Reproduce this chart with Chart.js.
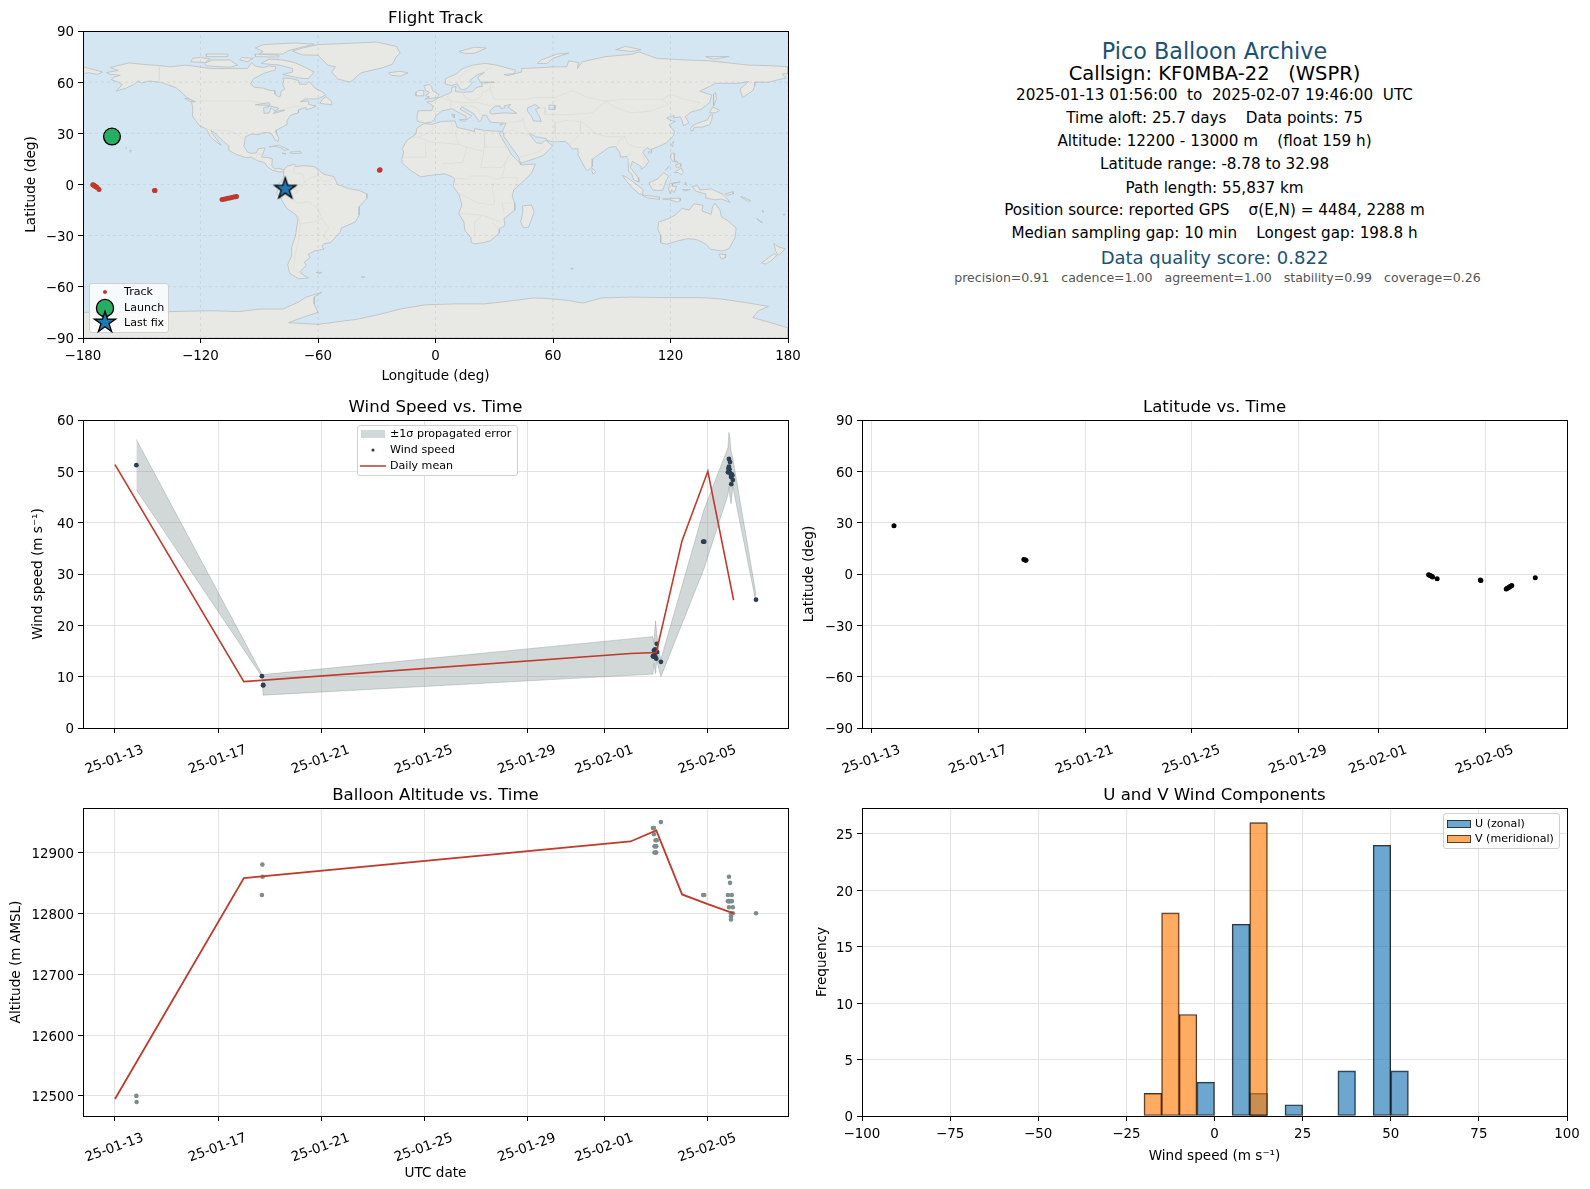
<!DOCTYPE html>
<html>
<head>
<meta charset="utf-8">
<title>Pico Balloon Archive</title>
<script src="https://cdn.jsdelivr.net/npm/chart.js@4"></script>
<style>
  html, body { margin: 0; padding: 0; background: #fff; }
  body { position: relative; width: 1590px; height: 1189px; overflow: hidden; font-family: "DejaVu Sans", sans-serif; }
  canvas { position: absolute; }
  .info { position: absolute; left: 1214.5px; transform: translate(-50%, -50%); white-space: pre; color: #000; font-size: 14.2px; }
</style>
</head>
<body>
<script>
// ---- time axis: days since 2025-01-13 00:00 UTC
const dateTicks = [0, 4, 8, 12, 16, 19, 23];
const dateLabels = ["25-01-13", "25-01-17", "25-01-21", "25-01-25", "25-01-29", "25-02-01", "25-02-05"];

// ---- wind speed panel
const windDays = [0.83, 5.70, 5.75, 5.75, 20.87, 20.89, 20.91, 20.93, 20.93, 20.95, 20.97, 20.97, 21.00, 21.02, 21.03, 21.18, 22.82, 22.86, 23.78, 23.80, 23.82, 23.82, 23.84, 23.86, 23.86, 23.90, 23.90, 23.92, 23.93, 23.95, 23.97, 23.91, 24.87];
const windSpeed = [51.2, 10.1, 8.4, 8.3, 14.0, 13.9, 15.1, 15.0, 14.2, 15.3, 13.8, 15.0, 13.5, 16.4, 14.8, 12.9, 36.3, 36.3, 49.8, 50.5, 52.4, 50.9, 50.4, 51.8, 49.7, 48.9, 49.3, 49.1, 49.4, 49.2, 48.3, 47.5, 25.0];
const meanDays = [0, 5, 20, 21, 22, 23, 24];
const meanSpeed = [51.3, 9.05, 14.5, 14.7, 36.5, 50.0, 24.9];
const bandDays = [0.83, 5.70, 5.75, 20.87, 20.91, 20.97, 21.02, 21.10, 21.18, 22.84, 23.78, 23.82, 23.86, 23.90, 23.97, 24.87];
const bandUpper = [56.2, 10.5, 10.4, 17.8, 16.5, 20.9, 18.3, 15.0, 13.4, 42.4, 54.6, 57.6, 56.3, 54.0, 52.5, 26.0];
const bandLower = [46.4, 10.0, 6.4, 10.5, 12.6, 10.6, 13.2, 11.5, 10.0, 30.9, 45.4, 47.0, 45.0, 43.7, 47.0, 24.4];
const windTicks = [0, 10, 20, 30, 40, 50, 60];

// ---- latitude panel
const latDays = [0.83, 5.70, 5.75, 5.78, 20.88, 20.92, 20.96, 21.00, 21.03, 21.20, 22.82, 22.84, 23.79, 23.83, 23.87, 23.91, 23.95, 24.00, 24.88];
const latVals = [28.2, 8.5, 8.2, 8.0, -0.4, -0.7, -1.0, -1.3, -1.7, -2.8, -3.5, -3.8, -8.8, -8.4, -8.0, -7.6, -7.2, -6.7, -2.2];
const latTicks = [-90, -60, -30, 0, 30, 60, 90];

// ---- altitude panel
const altDays = [0.83, 0.84, 5.70, 5.72, 5.73, 20.87, 20.91, 20.91, 20.93, 20.93, 20.97, 20.97, 20.97, 21.00, 21.00, 21.02, 21.18, 22.82, 22.86, 23.78, 23.78, 23.82, 23.82, 23.82, 23.86, 23.86, 23.90, 23.90, 23.90, 23.93, 23.93, 23.97, 23.97, 24.87];
const altVals = [12500, 12490, 12830, 12880, 12860, 12940, 12940, 12930, 12910, 12900, 12910, 12920, 12900, 12910, 12900, 12920, 12950, 12830, 12830, 12830, 12820, 12860, 12820, 12810, 12850, 12820, 12800, 12795, 12790, 12830, 12820, 12810, 12800, 12800];
const altMeanDays = [0, 5, 20, 21, 22, 23, 24];
const altMean = [12495, 12858, 12918, 12936, 12831, 12815, 12800];
const altTicks = [12500, 12600, 12700, 12800, 12900];

// ---- wind component histogram (5 m/s bins, bin centres)
const uBins = [-2.5, 7.5, 12.5, 22.5, 37.5, 47.5, 52.5];
const uCounts = [3, 17, 2, 1, 4, 24, 4];
const vBins = [-17.5, -12.5, -7.5, 12.5];
const vCounts = [2, 18, 9, 26];
const histXTicks = [-100, -75, -50, -25, 0, 25, 50, 75, 100];
const histYTicks = [0, 5, 10, 15, 20, 25];

// ---- flight track
const trackLon = [-165.2, -28.6, -28.3, -175, -174.7, -174.3, -174, -173.6, -173.2, -172.8, -171.8, -143.5, -143.2, -109, -108, -107, -106, -105, -104, -103, -102, -101.6, -76.7];
const trackLat = [28.1, 8.3, 8.6, -0.1, -0.3, -0.6, -0.9, -1.2, -1.5, -1.8, -2.9, -3.5, -3.5, -8.8, -8.6, -8.4, -8.1, -7.9, -7.6, -7.4, -7.2, -7, -2.2];
const launchLon = [-165.2];
const launchLat = [28.1];
const lastLon = [-76.7];
const lastLat = [-2.2];
const lonTicks = [-180, -120, -60, 0, 60, 120, 180];

// ---- land outlines, flat lon,lat lists
const northAmerica = [-168,65.6,-164,66.5,-162,66.8,-166,68.5,-163,69.5,-156.5,71.3,-150,70.5,-141,69.7,-135,69,-128,70,-124,69.5,-115,68,-108,68,-102,68,-96,68,-94,71.5,-92,69.5,-88,68.5,-85,69.5,-81.5,69,-82,67,-87,65.5,-90,63.8,-93,62,-94.5,59,-92.5,57,-88,56.5,-85,55.3,-82,55,-82,53,-80,51.3,-79,52,-79,54.5,-77,56,-78,58.5,-77.5,60.5,-78,62.4,-74,62.2,-70,61,-69.5,58.8,-66,58.8,-64.5,60.3,-61.5,56.5,-58,54.5,-56,52.5,-60,50.2,-66.5,50.2,-69,48.5,-65,49,-64.5,48,-65,47,-61,46,-63.5,44.7,-66,43.7,-66,45,-67,45,-70,43.7,-70,42,-74,40.6,-75.5,38,-76,36.8,-75.6,35.3,-78,33.9,-81,32,-81.4,30.5,-80,27,-80.5,25.2,-81.8,26,-82.8,28,-84,30,-86,30.5,-89,30.2,-90,29.2,-94,29.6,-97,28,-97.5,25,-97.8,22.3,-96,19,-94,18.2,-91.5,18.6,-90.5,21,-87,21.5,-88,18.5,-88.8,16,-86,15.9,-83.3,15,-83.6,11,-82,9,-79.8,9.5,-77.5,8.6,-78,7.4,-80,7.4,-81.5,7.8,-83,8.3,-85.5,10,-87.5,13,-91,14,-94,16,-97,15.8,-101.5,17.5,-105.5,20,-105.5,22.5,-109,26,-112.5,30,-114.7,31.7,-113,28.5,-110,24,-109.5,23,-112,25,-115,28,-117,32.5,-120.5,34.5,-122.5,37.5,-124.3,40.4,-124,46,-124.7,48.4,-122.5,48.5,-127,51,-130,54.5,-133,57,-137,58.5,-140,59.8,-146,60.7,-150,59.5,-152,60.8,-154,58.5,-158,56.5,-163,54.8,-160,58.5,-162,60,-165.5,61.5,-164,63,-161,64,-166,64.6];
const southAmerica = [-77.5,8.6,-75.5,10.8,-72,12,-71.5,10.5,-68,11,-62,10.6,-57,6,-52,4.7,-50,0,-44,-2.5,-39,-3.5,-35,-5.5,-35,-8,-39,-13,-39,-18,-41,-22,-48,-25.5,-48.7,-28,-53.5,-34,-57,-34.8,-58,-36,-57,-38,-62,-39,-65,-41,-64,-42.8,-67,-45.5,-66,-47.5,-69,-51,-68,-52.7,-65,-54.8,-70,-55.3,-74.5,-52,-75.5,-47,-73.5,-42,-73.5,-37,-71.5,-30,-70.2,-20,-71.5,-17.5,-76,-14,-79,-8,-81.2,-5,-80,-2.5,-80.5,0,-78.5,2,-77.5,4,-77.5,7];
const africa = [-5.8,35.8,-2,35.2,3,36.9,10,37.3,11,33.5,15,32.4,20,31,20,32.8,25,31.7,32,31.2,34.2,31.2,32.6,29.9,34,27,35.5,24,37.2,21,38.5,18,41,15,43.2,12.5,43.5,11.5,51,12,49,6.5,44,1,40,-3,39.2,-7,40.5,-11,40.5,-15,35,-20,35.5,-24,32.7,-26,32.5,-28.5,28,-33,25,-34,20,-34.8,18.3,-34,18,-31,15,-27,14.5,-22,11.8,-17,13.5,-12,12,-6,9,-1,9.8,3,8.5,4.6,4.5,6.3,1,5.8,-4,5.2,-7.5,4.4,-13,8.5,-16.7,12.3,-17.3,14.7,-16.2,19,-17,21,-14.5,26,-10,29.5,-9.5,33];
const eurasia = [-9,37,-9.5,38.8,-9,43.2,-2,43.4,-1,46,-4.5,48.4,-1.5,48.8,1.5,50.8,4,52,8,54,8.5,57,10.5,57.5,10,54.5,14,54,19,54.5,21,57,24,57.5,23.5,59.3,30,60,23,60,21.5,63,25,65.7,21.5,64.5,17.5,61,18.8,59.5,16,56.3,14,55.5,12.7,56,11,59,8,58,5,59,5,62,10,64.5,14,68,19,70,25.5,71,31,70,41,67,40,65,35,64.5,37,63.8,44,66,44,68,54,68.5,60,69,67,69,68,72.5,73,71.5,72.5,68,75,72,81,73.5,87,75,100,76.3,104,77.7,113,74,128,73,140,72.5,160,70,170,69.7,180,69,180,65,177,64.7,179,62.5,170,60,163,60,163,58,162,55,156.7,51,155.5,56,160,60.5,155,59.3,143,59.3,135,54.7,141,52.5,140,48,135.5,44,130.5,42.5,127.5,39.8,129.5,36,126.5,34.5,126,37.5,125,39.7,121.5,39,122,40.5,118,39,120,37.5,122.5,37,119.3,35,122,31,121.5,28.5,118,24.5,114,22.3,110,20.5,108,21.6,105.8,19,109,13.5,107,10.5,105,8.8,105,10.5,102,12.5,100.5,13.5,99.5,10,103.5,4,103.8,1.4,101,3,100.3,6,98.3,8,98.5,14,97.5,16.5,94.5,16,94,19,91.8,22.3,88.5,21.7,86.5,20,80.3,15,80,10.5,77.5,8,76,10.5,73,17,72.8,21,70,20.8,68,23.5,66.5,25.3,61,25,57,25.7,56.5,27,51,28,48.5,30,48,29.5,50,26.5,51.5,24.5,54,24,56.3,26,59.8,22.5,55,17,52,15.7,45,13,43.3,12.7,42.5,16,39,21.5,35,28,34.8,29.5,34.2,31.2,36,36,32,36.2,28,36.5,26.5,39.5,26,40.7,24,40.5,23.5,38,22.5,36.6,19.5,41.5,13.5,45.6,12.5,44.2,18.5,40.2,16,38,15.7,40,10.5,43,8.5,44.4,3.3,43.2,0,40,-0.5,38,-2,36.7,-5.5,36];
const australia = [114,-22,113.5,-26,115,-30,115,-34.3,118,-35,124,-33,129,-31.7,134,-32.5,138,-35,140.5,-38,146.5,-39,150,-37.5,153,-31,153.5,-25.5,149,-21,146,-19,145.3,-15,142.7,-11,141.5,-13,140.8,-17.5,136,-15.5,136.7,-12.2,132,-11.3,129.5,-15,126,-14,122.3,-18,119,-20];
const greenland = [-73,78.2,-68,76,-60,75.8,-55,70,-51,69,-53,66,-50,62,-44,60,-42.5,61,-38,65.5,-27,68.5,-22,70.5,-20,75,-18,77,-20,81,-30,83.5,-50,82.5,-60,82,-68,80];
const antarctica = [-180,-75,-158,-75,-150,-75.5,-135,-74.5,-115,-74,-100,-74.5,-90,-73,-78,-73,-70,-69,-66,-66,-58,-63.2,-62,-66,-62,-70,-60,-75,-68,-78,-75,-81,-60,-82,-40,-79,-28,-76,-18,-73,-5,-70.5,10,-70,25,-70,33,-69,40,-68,50,-66.5,57,-66.8,68,-68,75,-69.5,85,-66.5,100,-66,115,-66.3,135,-66.3,145,-67,160,-69.5,170,-71.5,165,-74,162,-78,168,-80,180,-84,180,-90,-180,-90];
const islands = [
  [-180,69,-175,67.5,-170,66,-172.5,64.5,-177,65.5,-180,65],
  [-62,66,-65,62,-70,62.5,-78,64.5,-73,66,-73,68,-80,70,-89,71,-85,73.5,-78,73,-72,71.5,-68,69.5],
  [-117,69.5,-105,68.8,-101,70,-105,73,-114,73,-118,71],
  [-125,72,-118,71.5,-115,73.5,-120,74.5,-124,74],
  [-90,76.5,-78,76.5,-75,78.5,-62,82.3,-72,83,-88,82,-92,80,-88,78],
  [-92,75,-80,74.7,-80,75.8,-92,76.5],
  [-117,75,-106,75,-106,76.5,-117,76.5],
  [-100,73,-96,72,-93,74,-99,74.5],
  [-59,47.6,-53,46.7,-53,48.5,-56,51.5,-57.5,50.3],
  [-85,22,-80,23,-75,20.5,-77.5,20,-78,21,-82,22.5],
  [-74.3,19,-69,19.5,-68.5,18.3,-74,18.2],
  [-78.3,18.4,-76.3,18.2,-77,17.8],
  [-24,65.5,-18,66.4,-14,65.5,-18,63.5,-22.5,64],
  [-156,20.2,-155,19.8,-155.7,19],
  [-158.3,21.6,-157.7,21.4,-158,21.2],
  [-128,50.5,-125,50,-123.5,48.4,-126,49],
  [-5.5,50,1,51,1.7,52.8,-1.5,55,-2,57.5,-3,58.6,-6,58,-5,55,-3,54,-5,52,-3,51.3],
  [-10,52,-6,52,-6,55,-8.5,55.2,-10,54],
  [12,78,20,80.5,26,80,20,77,15,76.8],
  [52,71,57,71,60,74,68,77,62,76.5,54,73],
  [92,79,100,78,105,79,97,81],
  [138,75,145,75,150,75,142,73.5],
  [142,46,143.5,50,143,54,142,53,142,48],
  [130,32,131.5,31.3,132,33.5,136,33.6,140,35,141,38,141.5,41,140,40.5,139,38,136.5,37,133,35.5,131,34.3],
  [140,42,141.5,45.5,145,43.5,143,42],
  [120.2,23,121.5,25.2,121,22],
  [108.8,19.2,110.5,20,110.3,18.7,109,18.3],
  [120,16,120.5,18.5,122,18.3,122,14,124,13,121,13.7],
  [122,7,125.5,9.7,126.5,7,125.5,5.7,124,7],
  [122.5,11.5,125,12.3,125.3,10.5,123,10],
  [118,9,119.5,11,117.5,8.5],
  [95.3,5.5,98,4,103.8,-1,106,-3,105.8,-5.8,104,-5.5,100.5,-2,97.5,2],
  [105.5,-6.2,110,-6.7,114.5,-7.5,114.3,-8.7,108,-7.8],
  [109,1,111,2,113.5,3.3,116.5,7,119,5,117.5,1.5,116,-3.5,111,-3.3,110,-1.5],
  [119.5,0.5,125,1.5,121,0.5,121,-1,123,-1,122,-4.8,120.5,-3,120,-5.5,119,-3],
  [127.5,1.5,128.5,-0.5,127.8,0],
  [126,-3,130,-3,128,-3.7],
  [131,-1,134,-0.8,135,-3.2,141,-2.6,147,-6,150.5,-10.5,146,-8.5,143,-9,138,-8,138,-5.5,133,-4],
  [80,9.6,81.8,7.5,80.5,6,79.8,8],
  [116,-8.5,125,-8,125,-9.5,123.5,-10.3,119,-8.8],
  [148,-5.5,152,-4.2,152,-5.5,149,-6.3],
  [156,-6.8,161,-9.5,160,-10,156,-7.5],
  [164,-20,167,-22.3,166,-22],
  [167,-15,167.5,-16.3,167,-16],
  [177.5,-17.5,178.6,-17.5,178,-18.2],
  [144.7,-40.8,148.2,-41,148,-43,146,-43.6],
  [172.7,-34.5,175,-36.5,178.5,-37.7,176.7,-40,175,-41.5,173.8,-39.3],
  [172.8,-40.5,174.3,-41.7,171,-45,168.5,-46.6,166.5,-46,170,-43],
  [69,-49,70.5,-49.3,69.5,-49.8],
  [-61,-51.5,-58,-51.5,-59,-52.3],
  [-38,-54,-36,-54.2,-37,-54.8],
  [44.5,-12.5,49,-12,50.4,-16,47.5,-25,45,-25.5,43.5,-22,44.5,-16.5],
  [12,38,15.5,38.2,15,36.8],
  [8.3,41,9.7,41,9.5,39],
  [33,35.4,34.5,35.6,33,34.7]
];
const waters = [
  [27.8,42,29,41.3,35,42,41.5,41.7,38,44.5,37,45.3,38.5,47,35,46,35.5,45,33.5,44.5,33,46,30.5,46,28,43.5],
  [47,45,51,47,53,45,51,44,53,40,54,37,50,37.3,49,40,47,43],
  [-92,46.7,-85,48,-84.5,46.5,-87,46.5],
  [-87.5,41.7,-87.8,45,-84,46,-80,44.7,-82,43,-84,45,-85,42],
  [-83,41.6,-79,42.8,-77,43.6,-79.5,43.5,-82,42.5],
  [58,46.5,61,46.5,61,44,58,44]
];
const borders = [
  [-123,49,-95,49,-89,48,-82.5,45,-79,43,-75,45,-70,46,-67,45],
  [-141,69.7,-141,60,-135,58.5],
  [-117,32.5,-108,31.5,-106,31.7,-101,29.5,-97.5,26],
  [-92,14.5,-91,17.8,-89,17.8,-88.3,18.5],
  [-72,12,-72.5,7,-67.5,6,-67,1.2],
  [-60,8,-60,5,-57,2,-54,2.3,-52,4],
  [-60,5,-64,4,-67,1.2,-70,-4,-74,-7.5,-70.5,-11,-65,-10,-60,-14,-58,-20,-54.5,-25.5,-57.5,-30,-53.5,-33.8],
  [-70.3,-18.3,-69,-23,-70,-33,-71.5,-40,-72.5,-50,-68.5,-52.5],
  [-69,-23,-62.5,-22,-58,-20],
  [-80.3,-3.5,-75.5,-1,-70,-4],
  [-79,1.5,-75,0,-70,-4],
  [25,31.7,25,22,37,22],
  [25,22,24,15,23,10,34,10,36,14,38.5,18],
  [-13,27.7,-8.7,27.7,-3,25,12,23.5,14,22.5,24,19.5],
  [-8.7,27.7,-1,32,-2,35],
  [9,30,8,37],
  [12,23.5,10,30,11.5,33.2],
  [-16.5,16,-5,16,-5,25],
  [3,12,14,13,16,22.5],
  [9,4,16,3,18,5,27,5,31,3,34,4,42,4,41,-2],
  [12,-5,17,-8,22,-11,30,-12,30,-8,29,-3,30,1],
  [12,-17,24,-18,33,-22],
  [20,-29,20,-22,24,-18],
  [29,-22,32,-26],
  [40,-10.7,34,-11,35,-17],
  [34,4,36,14],
  [28,56,30,50,40,50,47,50,50,51,61,51,70,55,78,51,87,49,98,50,107,50,116,50,120,53,127,50,135,48,131,43],
  [87,49,92,45,100,42,110,43,119,47,116,50],
  [74,37,79,33,81,30,88,28,97,28,98,24,102,22,107,21.5],
  [50,45,56,45,56,41,68,41,80,42,87,49],
  [44.5,39,46,33,48.5,30],
  [61,37,61,30,62,25],
  [36,36,42,37,44.5,37.3,44.5,39],
  [35,29.5,39,32,47,29,48,29],
  [43,16,52,19,56,22],
  [74,37,74,30,70,25,68,23.7],
  [61,36,66,37.5,74,37],
  [92,22,94,26,97,28],
  [100,20,98,16,99,11],
  [105,18,107,14,106,11],
  [-1.8,43.3,3,42.5],
  [2.5,51,8,49,7.5,44],
  [7,54,6,51,8,49,13,48,17,48,22,48,28,46,29,45],
  [14,54,15,51,19,49,23,51,24,54,28,56,28,60],
  [13,46,19,46,22,44,23,41],
  [13,59,12,63,15,66,20,69],
  [24,66,29,69]
];

const FONT = "'DejaVu Sans', sans-serif";
const TICK_SIZE = 13.4;
const LABEL_SIZE = 13.6;
const TITLE_SIZE = 16.6;
const GRID = "#e2e2e2";
const RED = "#c0392b";
const TOP_GAP = 32, LEFT_GAP = 78, BOTTOM_GAP = 78, RIGHT_GAP = 22;

const col1 = { l: 83, w: 705 };
const col2 = { l: 862, w: 705 };
const row1 = { t: 31, h: 307 };
const row2 = { t: 420, h: 308 };
const row3 = { t: 808, h: 308 };

const pts = (xs, ys) => xs.map((x, i) => ({ x, y: ys[i] }));
const flat = (arr) => {
  const out = [];
  for (let i = 0; i < arr.length; i += 2) out.push({ x: arr[i], y: arr[i + 1] });
  return out;
};
const closed = (arr) => {
  const out = flat(arr);
  out.push(out[0]);
  return out;
};
const minus = (v) => String(v).replace("-", "\u2212");

function starPath(ctx, cx, cy, r) {
  ctx.beginPath();
  for (let i = 0; i < 10; i++) {
    const rad = i % 2 ? r * 0.382 : r;
    const a = -Math.PI / 2 + (i * Math.PI) / 5;
    ctx.lineTo(cx + rad * Math.cos(a), cy + rad * Math.sin(a));
  }
  ctx.closePath();
}

function drawStar(ctx, cx, cy, r) {
  starPath(ctx, cx, cy, r);
  ctx.fillStyle = "#1f77b4";
  ctx.strokeStyle = "#000";
  ctx.lineWidth = 1.3;
  ctx.fill();
  ctx.stroke();
}

const starImg = document.createElement("canvas");
starImg.width = 28;
starImg.height = 28;
drawStar(starImg.getContext("2d"), 14, 14.6, 11.2);

// matplotlib-like box around the axes + optional inset legend
const framePlugin = {
  id: "frame",
  beforeDatasetsDraw(chart, args, opts) {
    if (!opts.background) return;
    const a = chart.chartArea;
    chart.ctx.fillStyle = opts.background;
    chart.ctx.fillRect(a.left, a.top, a.right - a.left, a.bottom - a.top);
  },
  afterDraw(chart, args, opts) {
    const { ctx, chartArea: a } = chart;
    ctx.save();
    ctx.strokeStyle = "#000";
    ctx.lineWidth = 1;
    ctx.strokeRect(a.left + 0.5, a.top + 0.5, a.right - a.left, a.bottom - a.top);
    const lg = opts.legend;
    if (lg) {
      const bx = a.left + lg.x, by = a.top + lg.y;
      ctx.beginPath();
      ctx.roundRect(bx + 0.5, by + 0.5, lg.w, lg.h, 2.5);
      ctx.fillStyle = lg.alpha || "rgba(255,255,255,0.8)";
      ctx.fill();
      ctx.strokeStyle = "#d0d0d0";
      ctx.stroke();
      ctx.font = "11.1px " + FONT;
      ctx.textBaseline = "middle";
      lg.items.forEach((it) => {
        const y = by + it.y;
        const mx = bx + lg.markX;
        if (it.kind === "dot") {
          ctx.beginPath();
          ctx.arc(mx, y, it.r, 0, Math.PI * 2);
          ctx.fillStyle = it.color;
          ctx.fill();
        } else if (it.kind === "circle") {
          ctx.beginPath();
          ctx.arc(mx, y, it.r, 0, Math.PI * 2);
          ctx.fillStyle = it.color;
          ctx.fill();
          ctx.strokeStyle = "#000";
          ctx.lineWidth = 1.3;
          ctx.stroke();
        } else if (it.kind === "star") {
          drawStar(ctx, mx, y, it.r);
        } else if (it.kind === "patch") {
          ctx.fillStyle = it.color;
          ctx.fillRect(mx - 12, y - 4, 24, 8);
          if (it.edge) {
            ctx.strokeStyle = it.edge;
            ctx.lineWidth = 1;
            ctx.strokeRect(mx - 11.5, y - 3.5, 23, 7);
          }
        } else if (it.kind === "line") {
          ctx.beginPath();
          ctx.moveTo(mx - 13, y);
          ctx.lineTo(mx + 13, y);
          ctx.strokeStyle = it.color;
          ctx.lineWidth = 1.5;
          ctx.stroke();
        }
        ctx.fillStyle = "#000";
        ctx.fillText(it.label, bx + lg.textX, y + 0.5);
      });
    }
    ctx.restore();
  }
};

function makeChart(col, row, c) {
  const canvas = document.createElement("canvas");
  const w = LEFT_GAP + col.w + RIGHT_GAP;
  const h = TOP_GAP + row.h + BOTTOM_GAP;
  canvas.width = w;
  canvas.height = h;
  canvas.style.left = col.l - LEFT_GAP + "px";
  canvas.style.top = row.t - TOP_GAP + "px";
  canvas.style.width = w + "px";
  canvas.style.height = h + "px";
  document.body.appendChild(canvas);

  const labelFont = { family: FONT, size: LABEL_SIZE, lineHeight: 1.2 };
  const lh = LABEL_SIZE * 1.2;
  const xOpts = {
    type: "linear",
    offset: false,
    min: c.xMin,
    max: c.xMax,
    afterBuildTicks(s) { s.ticks = c.xTicks.map((v) => ({ value: v })); },
    afterFit(s) { s.height = BOTTOM_GAP; },
    border: { display: false },
    grid: { display: true, offset: false, drawOnChartArea: c.grid !== false, color: GRID, lineWidth: 1, tickColor: "#000", tickLength: 5 },
    ticks: {
      color: "#000",
      autoSkip: false,
      font: { family: FONT, size: TICK_SIZE },
      padding: c.xRot ? 9 : 5,
      minRotation: c.xRot || 0,
      maxRotation: c.xRot || 0,
      labelOffset: c.xRot ? 28 : 0,
      callback: c.xFormat || minus
    },
    title: c.xTitle
      ? { display: true, text: c.xTitle, color: "#000", font: labelFont, padding: { top: 0, bottom: BOTTOM_GAP - c.xTitleDist - lh / 2 - 1 } }
      : { display: false }
  };
  const yOpts = {
    type: "linear",
    min: c.yMin,
    max: c.yMax,
    afterBuildTicks(s) { s.ticks = c.yTicks.map((v) => ({ value: v })); },
    afterFit(s) { s.width = LEFT_GAP; },
    border: { display: false },
    grid: { display: true, drawOnChartArea: c.grid !== false, color: GRID, lineWidth: 1, tickColor: "#000", tickLength: 5 },
    ticks: { color: "#000", autoSkip: false, font: { family: FONT, size: TICK_SIZE }, padding: 4, labelOffset: 2, callback: minus },
    title: { display: true, text: c.yTitle, color: "#000", font: labelFont, padding: { top: LEFT_GAP - c.yTitleDist - lh / 2, bottom: 0 } }
  };

  return new Chart(canvas, {
    type: c.type || "line",
    data: { datasets: c.datasets },
    plugins: [framePlugin],
    options: {
      responsive: false,
      animation: false,
      parsing: c.parsing,
      layout: { padding: { left: 0, right: RIGHT_GAP, top: 0, bottom: 0 } },
      scales: { x: xOpts, y: yOpts },
      plugins: {
        legend: { display: false },
        tooltip: { enabled: false },
        title: {
          display: true,
          text: c.title,
          color: "#000",
          fullSize: false,
          font: { family: FONT, size: TITLE_SIZE, weight: "normal", lineHeight: 1.2 },
          padding: { top: 9.5, bottom: TOP_GAP - TITLE_SIZE * 1.2 - 9.5 }
        },
        frame: { background: c.background, legend: c.legend }
      }
    }
  });
}

const scatterSet = (data, color, r) => ({ data, showLine: false, pointRadius: r, pointBorderWidth: 0, pointBackgroundColor: color, pointBorderColor: color });
const lineSet = (data, color, width) => ({ data, borderColor: color, borderWidth: width, pointRadius: 0, tension: 0, fill: false });
const dateFmt = (v) => dateLabels[dateTicks.indexOf(v)];

// ---- flight track map
const OCEAN = "#d4e6f1", LAND = "#e8e8e4", COAST = "#b9bfc2", BORDER = "#dcdcd7";
const GRATICULE = "rgba(110,125,135,0.2)";
const landSet = (arr) => ({ data: closed(arr), borderColor: COAST, borderWidth: 0.8, backgroundColor: LAND, fill: "shape", pointRadius: 0, tension: 0 });
const mapSets = [
  {
    data: pts(lastLon, lastLat), showLine: false, pointStyle: starImg, pointRadius: 14
  },
  {
    data: pts(launchLon, launchLat), showLine: false, pointRadius: 8.4,
    pointBackgroundColor: "#27ae60", pointBorderColor: "#000", pointBorderWidth: 1.3
  },
  scatterSet(pts(trackLon, trackLat), RED, 2.5)
];
lonTicks.forEach((lon) => {
  mapSets.push({ ...lineSet(pts([lon, lon], [-90, 90]), GRATICULE, 0.7), borderDash: [3, 3] });
});
latTicks.forEach((lat) => {
  mapSets.push({ ...lineSet(pts([-180, 180], [lat, lat]), GRATICULE, 0.7), borderDash: [3, 3] });
});
waters.forEach((w) => {
  mapSets.push({ data: closed(w), borderColor: COAST, borderWidth: 0.8, backgroundColor: OCEAN, fill: "shape", pointRadius: 0, tension: 0 });
});
borders.forEach((b) => mapSets.push(lineSet(flat(b), BORDER, 0.7)));
[northAmerica, southAmerica, africa, eurasia, australia, greenland, antarctica, ...islands].forEach((p) => mapSets.push(landSet(p)));

makeChart(col1, row1, {
  title: "Flight Track",
  xMin: -180, xMax: 180, xTicks: lonTicks,
  yMin: -90, yMax: 90, yTicks: latTicks,
  xTitle: "Longitude (deg)", xTitleDist: 37,
  yTitle: "Latitude (deg)", yTitleDist: 52,
  grid: false,
  background: OCEAN,
  datasets: mapSets,
  legend: {
    x: 6, y: 252, w: 79, h: 49, markX: 16, textX: 35, alpha: "rgba(255,255,255,0.8)",
    items: [
      { kind: "dot", r: 2, color: RED, label: "Track", y: 9 },
      { kind: "circle", r: 8.6, color: "#27ae60", label: "Launch", y: 25 },
      { kind: "star", r: 11.2, label: "Last fix", y: 39.5 }
    ]
  }
});

// ---- wind speed
makeChart(col1, row2, {
  title: "Wind Speed vs. Time",
  xMin: -1.24, xMax: 26.11, xTicks: dateTicks, xFormat: dateFmt, xRot: 20,
  yMin: 0, yMax: 60, yTicks: windTicks,
  yTitle: "Wind speed (m s\u207B\u00B9)", yTitleDist: 45,
  datasets: [
    lineSet(pts(meanDays, meanSpeed), RED, 1.6),
    scatterSet(pts(windDays, windSpeed), "#2c3e50", 2.4),
    { ...lineSet(pts(bandDays, bandUpper), "rgba(127,140,141,0.35)", 1), fill: "+1", backgroundColor: "rgba(127,140,141,0.35)" },
    lineSet(pts(bandDays, bandLower), "rgba(127,140,141,0.35)", 1)
  ],
  legend: {
    x: 274, y: 5, w: 160, h: 50, markX: 16, textX: 33, alpha: "rgba(255,255,255,0.8)",
    items: [
      { kind: "patch", color: "rgba(127,140,141,0.35)", label: "\u00B11\u03C3 propagated error", y: 9 },
      { kind: "dot", r: 1.6, color: "#2c3e50", label: "Wind speed", y: 25 },
      { kind: "line", color: RED, label: "Daily mean", y: 41 }
    ]
  }
});

// ---- latitude
makeChart(col2, row2, {
  title: "Latitude vs. Time",
  xMin: -0.37, xMax: 26.07, xTicks: dateTicks, xFormat: dateFmt, xRot: 20,
  yMin: -90, yMax: 90, yTicks: latTicks,
  yTitle: "Latitude (deg)", yTitleDist: 53,
  datasets: [scatterSet(pts(latDays, latVals), "#000", 2.5)]
});

// ---- altitude
makeChart(col1, row3, {
  title: "Balloon Altitude vs. Time",
  xMin: -1.24, xMax: 26.11, xTicks: dateTicks, xFormat: dateFmt, xRot: 20,
  xTitle: "UTC date", xTitleDist: 56.5,
  yMin: 12467, yMax: 12973, yTicks: altTicks,
  yTitle: "Altitude (m AMSL)", yTitleDist: 67,
  datasets: [
    lineSet(pts(altMeanDays, altMean), RED, 1.8),
    scatterSet(pts(altDays, altVals), "#7f8c8d", 2.3)
  ]
});

// ---- wind components
makeChart(col2, row3, {
  type: "bar",
  title: "U and V Wind Components",
  xMin: -100, xMax: 100, xTicks: histXTicks,
  xTitle: "Wind speed (m s\u207B\u00B9)", xTitleDist: 39,
  yMin: 0, yMax: 27.3, yTicks: histYTicks,
  yTitle: "Frequency", yTitleDist: 40,
  datasets: [
    { data: pts(vBins, vCounts), order: 1, grouped: false, barPercentage: 1, categoryPercentage: 1, borderSkipped: false, borderWidth: 1, backgroundColor: "rgba(255,127,14,0.65)", borderColor: "rgba(0,0,0,0.8)" },
    { data: pts(uBins, uCounts), order: 2, grouped: false, barPercentage: 1, categoryPercentage: 1, borderSkipped: false, borderWidth: 1, backgroundColor: "rgba(31,119,180,0.65)", borderColor: "rgba(0,0,0,0.8)" }
  ],
  legend: {
    x: 581, y: 5, w: 116, h: 35, markX: 16, textX: 32, alpha: "rgba(255,255,255,0.8)",
    items: [
      { kind: "patch", color: "rgba(31,119,180,0.65)", edge: "rgba(0,0,0,0.65)", label: "U (zonal)", y: 11 },
      { kind: "patch", color: "rgba(255,127,14,0.65)", edge: "rgba(0,0,0,0.65)", label: "V (meridional)", y: 26 }
    ]
  }
});

// ---- header text block
const infoLines = [
  ["Pico Balloon Archive", 50.7, 22.3, "#1a5276", 0],
  ["Callsign: KF0MBA-22   (WSPR)", 73, 19.5, "#000", 0],
  ["2025-01-13 01:56:00  to  2025-02-07 19:46:00  UTC", 95.3, 15.2, "#000", 0],
  ["Time aloft: 25.7 days    Data points: 75", 117.6, 15.2, "#000", 0],
  ["Altitude: 12200 - 13000 m    (float 159 h)", 141.3, 15.2, "#000", 0],
  ["Latitude range: -8.78 to 32.98", 164.3, 15.2, "#000", 0],
  ["Path length: 55,837 km", 187.6, 15.2, "#000", 0],
  ["Position source: reported GPS    \u03C3(E,N) = 4484, 2288 m", 210.2, 15.2, "#000", 0],
  ["Median sampling gap: 10 min    Longest gap: 198.8 h", 233.3, 15.2, "#000", 0],
  ["Data quality score: 0.822", 256.6, 18, "#1a5276", 0],
  ["precision=0.91   cadence=1.00   agreement=1.00   stability=0.99   coverage=0.26", 277, 12.55, "#555", 3]
];
infoLines.forEach(([text, y, size, color, dx]) => {
  const el = document.createElement("div");
  el.className = "info";
  el.textContent = text;
  el.style.top = y + "px";
  el.style.fontSize = size + "px";
  el.style.color = color;
  el.style.marginLeft = dx + "px";
  document.body.appendChild(el);
});
</script>
</body>
</html>
